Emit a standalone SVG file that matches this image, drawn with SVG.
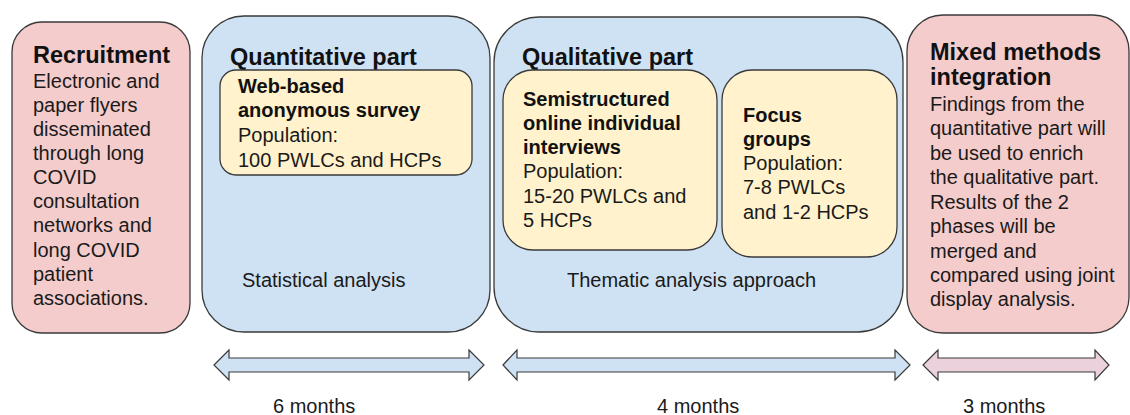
<svg xmlns="http://www.w3.org/2000/svg" width="1130" height="415" viewBox="0 0 1130 415">
  <style>
    .box { stroke: #3a3a3a; stroke-width: 1.3; }
    .pink { fill: #f4cccc; }
    .blue { fill: #cfe2f3; }
    .yellow { fill: #fff2cc; }
    text { font-family: "Liberation Sans", Arial, sans-serif; fill: #111; }
    .title { font-size: 23.5px; font-weight: bold; }
    .sub { font-size: 20px; font-weight: bold; }
    .body { font-size: 20px; fill: #1a1a1a; }
    .arrow { stroke: #3a3a3a; stroke-width: 1.2; stroke-linejoin: miter; }
    .arrow-blue { fill: #cfe2f3; }
    .arrow-pink { fill: #ead1dc; }
  </style>

  <!-- Recruitment -->
  <g id="recruitment">
    <rect class="box pink" x="12" y="22" width="178" height="311" rx="30" ry="30"/>
    <text class="title" x="33" y="63">Recruitment</text>
    <text class="body" x="33">
      <tspan x="33" y="88">Electronic and</tspan>
      <tspan x="33" y="112">paper flyers</tspan>
      <tspan x="33" y="136">disseminated</tspan>
      <tspan x="33" y="160">through long</tspan>
      <tspan x="33" y="184">COVID</tspan>
      <tspan x="33" y="208">consultation</tspan>
      <tspan x="33" y="232">networks and</tspan>
      <tspan x="33" y="257">long COVID</tspan>
      <tspan x="33" y="281">patient</tspan>
      <tspan x="33" y="305">associations.</tspan>
    </text>
  </g>

  <!-- Quantitative part -->
  <g id="quantitative">
    <rect class="box blue" x="202" y="16" width="288" height="316" rx="42" ry="42"/>
    <text class="title" x="230" y="65">Quantitative part</text>
    <g id="survey">
      <rect class="box yellow" x="220" y="70" width="252" height="105" rx="16" ry="16"/>
      <text class="sub" x="238" y="93">Web-based</text>
      <text class="sub" x="238" y="117">anonymous survey</text>
      <text class="body" x="238" y="142">Population:</text>
      <text class="body" x="238" y="167">100 PWLCs and HCPs</text>
    </g>
    <text class="body" x="242" y="287">Statistical analysis</text>
  </g>

  <!-- Qualitative part -->
  <g id="qualitative">
    <rect class="box blue" x="494" y="17" width="409" height="315" rx="45" ry="45"/>
    <text class="title" x="522" y="65">Qualitative part</text>
    <g id="interviews">
      <rect class="box yellow" x="503" y="70" width="214" height="180" rx="30" ry="30"/>
      <text class="sub" x="523" y="106">Semistructured</text>
      <text class="sub" x="523" y="130">online individual</text>
      <text class="sub" x="523" y="154">interviews</text>
      <text class="body" x="523" y="178">Population:</text>
      <text class="body" x="523" y="203">15-20 PWLCs and</text>
      <text class="body" x="523" y="227">5 HCPs</text>
    </g>
    <g id="focus-groups">
      <rect class="box yellow" x="722" y="70" width="175" height="187" rx="30" ry="30"/>
      <text class="sub" x="743" y="122">Focus</text>
      <text class="sub" x="743" y="146">groups</text>
      <text class="body" x="743" y="170">Population:</text>
      <text class="body" x="743" y="194">7-8 PWLCs</text>
      <text class="body" x="743" y="219">and 1-2 HCPs</text>
    </g>
    <text class="body" x="567" y="287">Thematic analysis approach</text>
  </g>

  <!-- Mixed methods integration -->
  <g id="integration">
    <rect class="box pink" x="907" y="15" width="222" height="318" rx="36" ry="36"/>
    <text class="title" x="930" y="60">Mixed methods</text>
    <text class="title" x="930" y="85">integration</text>
    <text class="body">
      <tspan x="930" y="111">Findings from the</tspan>
      <tspan x="930" y="135">quantitative part will</tspan>
      <tspan x="930" y="160">be used to enrich</tspan>
      <tspan x="930" y="184">the qualitative part.</tspan>
      <tspan x="930" y="209">Results of the 2</tspan>
      <tspan x="930" y="233">phases will be</tspan>
      <tspan x="930" y="258">merged and</tspan>
      <tspan x="930" y="282">compared using joint</tspan>
      <tspan x="930" y="306">display analysis.</tspan>
    </text>
  </g>

  <!-- Timeline arrows -->
  <g id="connectors">
    <path class="arrow arrow-blue" d="M214,365 L229,350 L229,358 L469,358 L469,350 L484,365 L469,380 L469,372 L229,372 L229,380 Z"/>
    <path class="arrow arrow-blue" d="M503,365 L517,350 L517,358 L895,358 L895,350 L910,365 L895,380 L895,372 L517,372 L517,380 Z"/>
    <path class="arrow arrow-pink" d="M923,365 L938,350 L938,358 L1095,358 L1095,350 L1109,365 L1095,380 L1095,372 L938,372 L938,380 Z"/>
  </g>

  <g id="durations">
    <text class="body" x="273" y="413">6 months</text>
    <text class="body" x="657" y="413">4 months</text>
    <text class="body" x="963" y="413">3 months</text>
  </g>
</svg>
